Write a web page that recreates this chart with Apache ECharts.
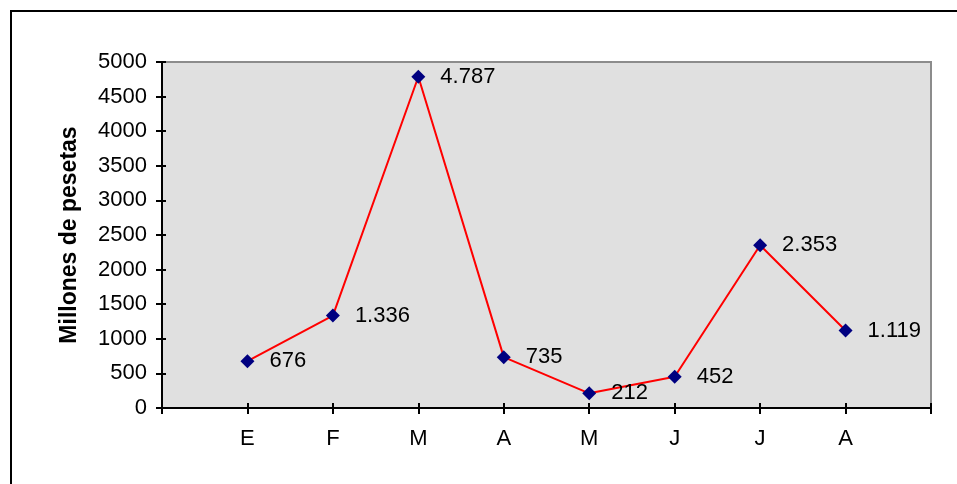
<!DOCTYPE html>
<html>
<head>
<meta charset="utf-8">
<script src="https://cdn.jsdelivr.net/npm/echarts@6/dist/echarts.min.js"></script>
<style>html,body{margin:0;padding:0;background:#fff}#c{width:957px;height:484px}</style>
</head>
<body>
<div id="c"></div>
<script>
const months = ['E','F','M','A','M','J','J','A'];
const values = [676, 1336, 4787, 735, 212, 452, 2353, 1119];
const yTicks = {min: 0, max: 5000, interval: 500};
const yTitle = 'Millones de pesetas';

const axisCats = [''].concat(months, ['']);
const seriesData = [null].concat(values, [null]);
const FONT = '"Liberation Sans", Arial, sans-serif';
function fmt(v){ return String(v).replace(/\B(?=(\d{3})+(?!\d))/g, '.'); }

const chart = echarts.init(document.getElementById('c'));
chart.setOption({
  animation: false,
  graphic: [{
    type: 'rect', shape: {x: 11, y: 11, width: 1100, height: 1100},
    style: {fill: 'none', stroke: '#000', lineWidth: 2}, z: -1
  }],
  grid: {left: 162, top: 62, right: 26, bottom: 76, show: true,
         backgroundColor: '#e0e0e0', borderColor: '#8c8c8c', borderWidth: 2},
  xAxis: [{
    type: 'category', data: axisCats, boundaryGap: false, position: 'bottom',
    axisLine: {lineStyle: {color: '#000', width: 2}},
    axisTick: {show: true, interval: 0, length: 6, lineStyle: {color: '#000', width: 2}},
    axisLabel: {interval: 0, color: '#000', fontFamily: FONT, fontSize: 22, margin: 20},
    splitLine: {show: false}
  }, {
    type: 'category', data: axisCats, boundaryGap: false, position: 'bottom',
    axisLine: {show: false},
    axisTick: {show: true, inside: true, interval: 0, length: 5, lineStyle: {color: '#000', width: 2}},
    axisLabel: {show: false}, splitLine: {show: false}
  }],
  yAxis: [{
    type: 'value', min: yTicks.min, max: yTicks.max, interval: yTicks.interval,
    name: yTitle, nameLocation: 'middle', nameRotate: 90, nameGap: 81,
    nameTextStyle: {color: '#000', fontFamily: FONT, fontSize: 23, fontWeight: 'bold'},
    axisLine: {show: true, lineStyle: {color: '#000', width: 2}},
    axisTick: {show: true, length: 6, lineStyle: {color: '#000', width: 2}},
    axisLabel: {color: '#000', fontFamily: FONT, fontSize: 22, margin: 15, formatter: v => String(v)},
    splitLine: {show: false}
  }, {
    type: 'value', min: yTicks.min, max: yTicks.max, interval: yTicks.interval, position: 'left',
    axisLine: {show: false},
    axisTick: {show: true, inside: true, length: 4, lineStyle: {color: '#000', width: 2}},
    axisLabel: {show: false}, splitLine: {show: false}
  }],
  series: [{
    type: 'line', data: seriesData, xAxisIndex: 0, yAxisIndex: 0,
    symbol: 'diamond', symbolSize: 14, showAllSymbol: true,
    itemStyle: {color: '#000080'},
    lineStyle: {color: '#ff0000', width: 2},
    label: {show: true, position: 'right', distance: 15, color: '#000',
            fontFamily: FONT, fontSize: 22, formatter: p => fmt(p.value)}
  }]
});
</script>
</body>
</html>
